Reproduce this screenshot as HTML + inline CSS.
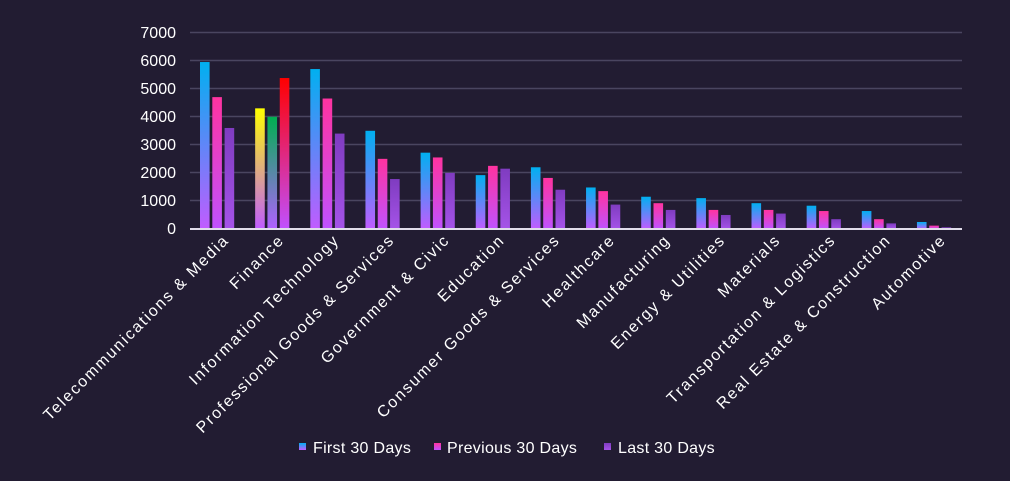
<!DOCTYPE html>
<html><head><meta charset="utf-8"><style>
html,body{margin:0;padding:0;background:#221c32;}
svg{display:block;font-family:"Liberation Sans",sans-serif;}
</style></head><body>
<svg width="1010" height="481" viewBox="0 0 1010 481">
<defs>
<linearGradient id="gb" x1="0" y1="0" x2="0" y2="1"><stop offset="0" stop-color="#00b0f0"/><stop offset="1" stop-color="#c15cff"/></linearGradient>
<linearGradient id="gp" x1="0" y1="0" x2="0" y2="1"><stop offset="0" stop-color="#ff33a0"/><stop offset="1" stop-color="#c052ff"/></linearGradient>
<linearGradient id="gv" x1="0" y1="0" x2="0" y2="1"><stop offset="0" stop-color="#7f3cc0"/><stop offset="1" stop-color="#a553e8"/></linearGradient>
<linearGradient id="gy" x1="0" y1="0" x2="0" y2="1"><stop offset="0" stop-color="#ffff00"/><stop offset="1" stop-color="#c05cff"/></linearGradient>
<linearGradient id="gg" x1="0" y1="0" x2="0" y2="1"><stop offset="0" stop-color="#00b050"/><stop offset="1" stop-color="#b060ff"/></linearGradient>
<linearGradient id="gr" x1="0" y1="0" x2="0" y2="1"><stop offset="0" stop-color="#ff0000"/><stop offset="1" stop-color="#c050ff"/></linearGradient>
</defs>
<rect width="1010" height="481" fill="#221c32"/>
<g stroke="#4a4560" stroke-width="1.5">
<line x1="190" x2="962" y1="32.5" y2="32.5"/><line x1="190" x2="962" y1="60.5" y2="60.5"/>
<line x1="190" x2="962" y1="88.5" y2="88.5"/><line x1="190" x2="962" y1="116.5" y2="116.5"/>
<line x1="190" x2="962" y1="144.5" y2="144.5"/><line x1="190" x2="962" y1="172.5" y2="172.5"/>
<line x1="190" x2="962" y1="200.5" y2="200.5"/>
</g>
<g fill="#ffffff" font-size="16" text-anchor="end">
<text x="176" y="38">7000</text><text x="176" y="66">6000</text><text x="176" y="94">5000</text>
<text x="176" y="122">4000</text><text x="176" y="150">3000</text><text x="176" y="178">2000</text>
<text x="176" y="206">1000</text><text x="176" y="234">0</text>
</g>
<g id="bars"></g>
<line x1="190" x2="962" y1="229" y2="229" stroke="#e0dcea" stroke-width="2"/>
<g id="labels" fill="#ffffff" font-size="16" letter-spacing="1.8" text-anchor="end"></g>
<g font-size="16" fill="#ffffff" letter-spacing="0.3">
<rect x="299" y="443" width="7" height="7" fill="url(#gb)"/><text x="313" y="453">First 30 Days</text>
<rect x="434" y="443" width="7" height="7" fill="url(#gp)"/><text x="447" y="453">Previous 30 Days</text>
<rect x="604" y="443" width="7" height="7" fill="url(#gv)"/><text x="618" y="453">Last 30 Days</text>
</g>
<script>
var cats=["Telecommunications & Media","Finance","Information Technology","Professional Goods & Services","Government & Civic","Education","Consumer Goods & Services","Healthcare","Manufacturing","Energy & Utilities","Materials","Transportation & Logistics","Real Estate & Construction","Automotive"];
var v=[[5950,4700,3600],[4300,4000,5380],[5700,4650,3400],[3500,2500,1780],[2720,2550,2000],[1920,2250,2150],[2200,1820,1400],[1480,1350,870],[1150,920,680],[1100,680,500],[920,680,550],[830,640,350],[640,350,200],[250,120,60]];
var ns="http://www.w3.org/2000/svg",b=document.getElementById("bars"),l=document.getElementById("labels");
for(var i=0;i<14;i++){var c=218+i*55.15;
 for(var j=0;j<3;j++){var h=v[i][j]*0.02806;var r=document.createElementNS(ns,"rect");
  r.setAttribute("x",c-18+j*12.3);r.setAttribute("width",9.6);r.setAttribute("y",229-h);r.setAttribute("height",h);
  var f=i==1?["gy","gg","gr"][j]:["gb","gp","gv"][j];r.setAttribute("fill","url(#"+f+")");b.appendChild(r);}
 var t=document.createElementNS(ns,"text");t.setAttribute("transform","translate("+(c+12)+",241) rotate(-45)");t.textContent=cats[i];l.appendChild(t);}
</script>
</svg>
</body></html>
